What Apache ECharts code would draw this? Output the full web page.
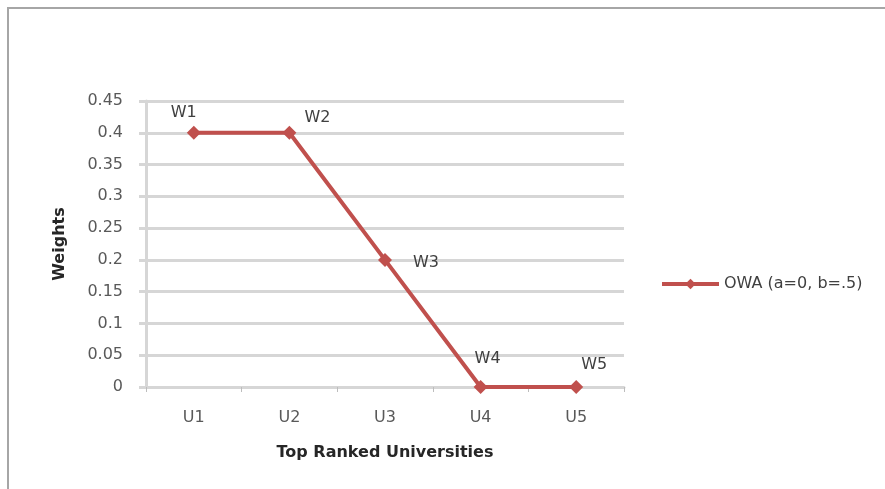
<!DOCTYPE html>
<html>
<head>
<meta charset="utf-8">
<script src="https://cdn.jsdelivr.net/npm/echarts@6/dist/echarts.min.js"></script>
<style>
  html, body { margin: 0; padding: 0; background: #fff; }
  #chart { width: 885px; height: 489px; }
</style>
</head>
<body>
<div id="chart"></div>
<script>
// Category labels (universities) and their OWA weights
const universities = ['U1', 'U2', 'U3', 'U4', 'U5'];
const weights = [0.4, 0.4, 0.2, 0, 0];
const pointLabels = ['W1', 'W2', 'W3', 'W4', 'W5'];
const seriesName = 'OWA (a=0, b=.5)';

// Where each point's label sits relative to its marker
const labelPlacement = [
  { position: 'top', offset: [-10, 0] },
  { position: 'top', offset: [28, 5] },
  { position: 'right', offset: [16, 3] },
  { position: 'top', offset: [7, -8] },
  { position: 'top', offset: [18, -2] }
];

const red = '#c0504d';
const grid = '#d6d6d6';
const tickFont = 'DejaVu Sans';

const chart = echarts.init(document.getElementById('chart'));
chart.setOption({
  animation: false,
  graphic: [{
    type: 'rect',
    shape: { x: 8, y: 8, width: 920, height: 520 },
    style: { fill: 'none', stroke: '#a6a6a6', lineWidth: 2 },
    silent: true
  }],
  grid: { left: 146, right: 261, top: 101, bottom: 102 },
  legend: {
    left: 655, top: 271,
    itemWidth: 57, itemHeight: 13, itemGap: 4,
    lineStyle: { width: 4 },
    textStyle: { fontFamily: tickFont, fontSize: 16, color: '#404040' },
    data: [seriesName]
  },
  xAxis: {
    type: 'category',
    data: universities,
    boundaryGap: true,
    name: 'Top Ranked Universities',
    nameLocation: 'middle',
    nameGap: 58,
    nameTextStyle: { fontFamily: 'DejaVu Sans', fontWeight: 'bold', fontSize: 16, color: '#262626' },
    axisLine: { lineStyle: { color: grid, width: 3 } },
    axisTick: { show: true, length: 5, lineStyle: { color: '#bdbdbd', width: 1 } },
    axisLabel: { fontFamily: tickFont, fontSize: 16, color: '#595959', margin: 23 }
  },
  yAxis: {
    type: 'value',
    min: 0, max: 0.45, interval: 0.05,
    name: 'Weights',
    nameLocation: 'middle',
    nameGap: 78,
    nameTextStyle: { fontFamily: 'DejaVu Sans', fontWeight: 'bold', fontSize: 16, color: '#262626' },
    axisLine: { show: true, lineStyle: { color: grid, width: 3 } },
    axisTick: { show: true, length: 7, lineStyle: { color: grid, width: 3 } },
    splitLine: { lineStyle: { color: grid, width: 3 } },
    axisLabel: {
      fontFamily: tickFont, fontSize: 16, color: '#595959', margin: 23,
      formatter: v => String(parseFloat(v.toFixed(2)))
    }
  },
  series: [{
    name: seriesName,
    type: 'line',
    data: weights.map((v, i) => ({
      value: v,
      label: {
        show: true,
        formatter: pointLabels[i],
        position: labelPlacement[i].position,
        offset: labelPlacement[i].offset,
        fontFamily: tickFont, fontSize: 16, color: '#404040'
      }
    })),
    symbol: 'diamond',
    symbolSize: 14,
    lineStyle: { color: red, width: 4 },
    itemStyle: { color: red }
  }]
});
</script>
</body>
</html>
